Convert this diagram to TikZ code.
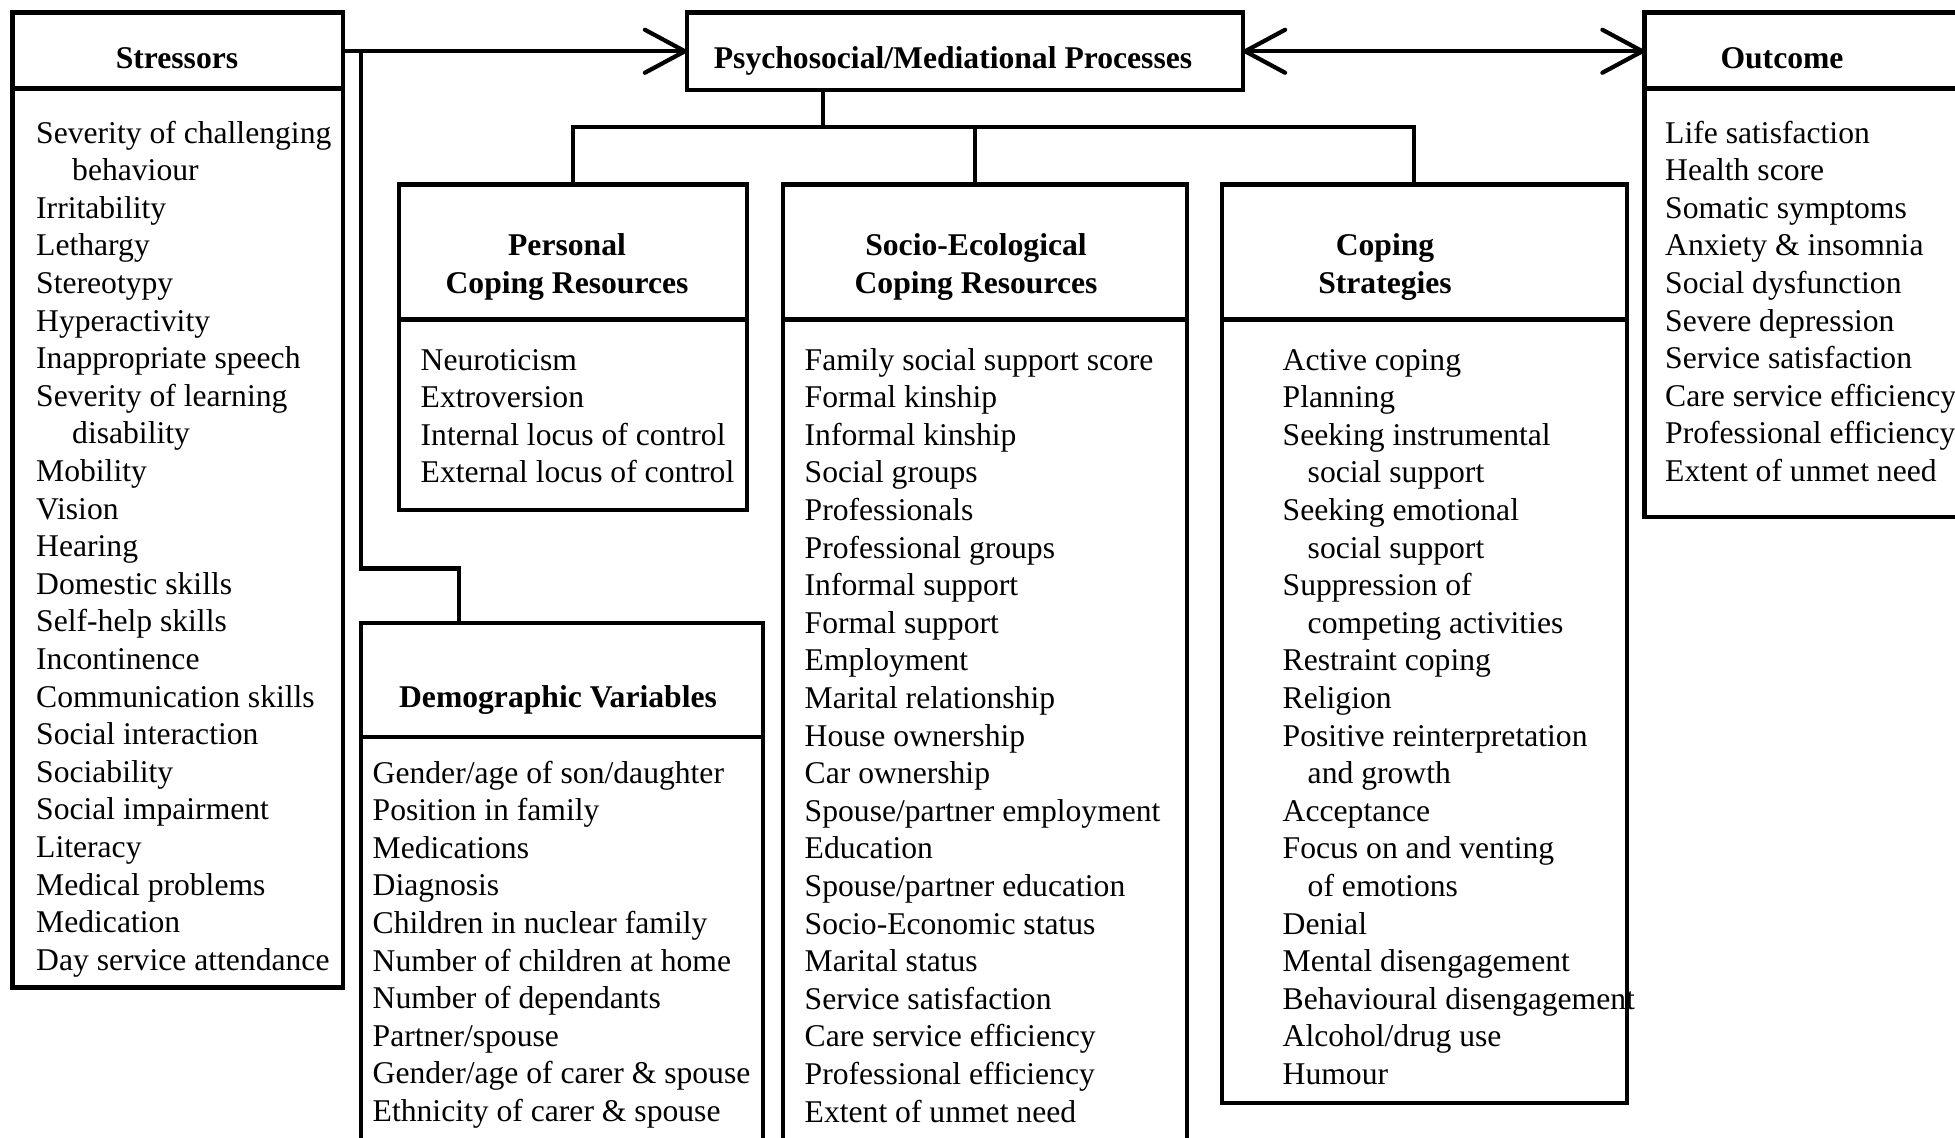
\documentclass[tikz,border=0pt]{standalone}
\usepackage{fontspec}
\setmainfont{Liberation Serif}
\usetikzlibrary{arrows.meta, calc}
\newcommand{\diagfont}{\fontsize{9pt}{10.7pt}\selectfont}
\newcommand{\wrapA}{\hspace*{3.6mm}}
\newcommand{\wrapB}{\hspace*{2.5mm}}
\tikzset{
  panel/.style={rectangle, draw, line width=1.2pt, anchor=north west,
                inner sep=0pt, outer sep=0pt},
  headlabel/.style={font=\diagfont\bfseries, align=center, inner sep=0pt},
  listentry/.style={font=\diagfont, anchor=base west, inner sep=0pt},
  wire/.style={line width=1.2pt},
  flow/.style={wire, -{Straight Barb[length=4mm,width=4.3mm,round]}},
  twoway/.style={wire, {Straight Barb[length=4mm,width=4.3mm,round]}-{Straight Barb[length=4mm,width=4.3mm,round]}},
}

\begin{document}
\begin{tikzpicture}[x=1cm, y=1cm]
  \useasboundingbox (0,0) rectangle (19.55,-11.37);
  \clip (0,0) rectangle (19.55,-11.37);

  % Boxes along the top row
  \node[panel, minimum width=3.305cm, minimum height=9.75cm] (str) at (0.125,-0.125) {};
  \node[panel, minimum width=5.56cm, minimum height=0.775cm] (psy) at (6.87,-0.125) {};
  \node[panel, minimum width=4cm, minimum height=5.045cm] (out) at (16.445,-0.125) {};

  % Three boxes hanging under the mediational box
  \node[panel, minimum width=3.48cm, minimum height=3.255cm] (per) at (3.99,-1.845) {};
  \node[panel, minimum width=4.04cm, minimum height=10cm] (soc) at (7.83,-1.845) {};
  \node[panel, minimum width=4.05cm, minimum height=9.185cm] (cop) at (12.22,-1.845) {};

  % Demographic box, fed from the stressors arrow
  \node[panel, minimum width=4.02cm, minimum height=6cm] (dem) at (3.61,-6.23) {};

  % Header rules
  \foreach \b/\h in {str/0.76, out/0.76, per/1.35, soc/1.35, cop/1.35, dem/1.14}
    \draw[wire] ([yshift=-\h cm]\b.north west) -- ([yshift=-\h cm]\b.north east);

  % Titles
  \node[headlabel, anchor=base] (strtitle) at (1.77,-0.68) {Stressors};
  \node[headlabel, anchor=base] (psytitle) at (9.53,-0.68) {Psychosocial/Mediational Processes};
  \node[headlabel, anchor=base] (outtitle) at (17.82,-0.68) {Outcome};
  \node[headlabel] (pertitle) at (5.67,-2.673) {Personal\\Coping Resources};
  \node[headlabel] (soctitle) at (9.76,-2.673) {Socio-Ecological\\Coping Resources};
  \node[headlabel] (coptitle) at (13.85,-2.673) {Coping\\Strategies};
  \node[headlabel, anchor=base] (demtitle) at (5.58,-7.07) {Demographic Variables};

  % Lists
  \foreach \entry [count=\n from 0] in {Severity of challenging, \wrapA behaviour,
      Irritability, Lethargy, Stereotypy, Hyperactivity, Inappropriate speech,
      Severity of learning, \wrapA disability, Mobility, Vision, Hearing,
      Domestic skills, Self-help skills, Incontinence, Communication skills,
      Social interaction, Sociability, Social impairment, Literacy,
      Medical problems, Medication, Day service attendance}
    \node[listentry] (str\n) at (0.355,-1.43-0.376*\n) {\entry};

  \foreach \entry [count=\n from 0] in {Neuroticism, Extroversion,
      Internal locus of control, External locus of control}
    \node[listentry] (per\n) at (4.20,-3.70-0.376*\n) {\entry};

  \foreach \entry [count=\n from 0] in {Family social support score, Formal kinship,
      Informal kinship, Social groups, Professionals, Professional groups,
      Informal support, Formal support, Employment, Marital relationship,
      House ownership, Car ownership, Spouse/partner employment, Education,
      Spouse/partner education, Socio-Economic status, Marital status,
      Service satisfaction, Care service efficiency, Professional efficiency,
      Extent of unmet need}
    \node[listentry] (soc\n) at (8.04,-3.70-0.376*\n) {\entry};

  \foreach \entry [count=\n from 0] in {Active coping, Planning,
      Seeking instrumental, \wrapB social support, Seeking emotional,
      \wrapB social support, Suppression of, \wrapB competing activities,
      Restraint coping, Religion, Positive reinterpretation, \wrapB and growth,
      Acceptance, Focus on and venting, \wrapB of emotions, Denial,
      Mental disengagement, Behavioural disengagement, Alcohol/drug use, Humour}
    \node[listentry] (cop\n) at (12.82,-3.70-0.376*\n) {\entry};

  \foreach \entry [count=\n from 0] in {Life satisfaction, Health score,
      Somatic symptoms, Anxiety \& insomnia, Social dysfunction, Severe depression,
      Service satisfaction, Care service efficiency, Professional efficiency,
      Extent of unmet need}
    \node[listentry] (out\n) at (16.645,-1.43-0.376*\n) {\entry};

  \foreach \entry [count=\n from 0] in {Gender/age of son/daughter, Position in family,
      Medications, Diagnosis, Children in nuclear family, Number of children at home,
      Number of dependants, Partner/spouse, Gender/age of carer \& spouse,
      Ethnicity of carer \& spouse}
    \node[listentry] (dem\n) at (3.72,-7.83-0.376*\n) {\entry};

  % Arrows between the top boxes
  \draw[flow] (psy.west -| str.east) -- (psy.west);
  \draw[twoway] (psy.east) -- (psy.east -| out.west);

  % Branch from the stressors arrow down to the demographic box
  \coordinate (split) at (3.61,-0.51);
  \coordinate (bend) at (4.59,-5.685);
  \draw[wire] (split) |- (bend) -- (bend |- dem.north);

  % Tree under the mediational box
  \coordinate (tee) at (8.23,-1.27);
  \coordinate (socdrop) at (9.75,-1.27);
  \coordinate (copdrop) at (14.14,-1.27);
  \draw[wire] (tee |- psy.south) -- (tee);
  \draw[wire] (per.north) |- (copdrop) -- (copdrop |- cop.north);
  \draw[wire] (socdrop) -- (socdrop |- soc.north);

\end{tikzpicture}
\end{document}
